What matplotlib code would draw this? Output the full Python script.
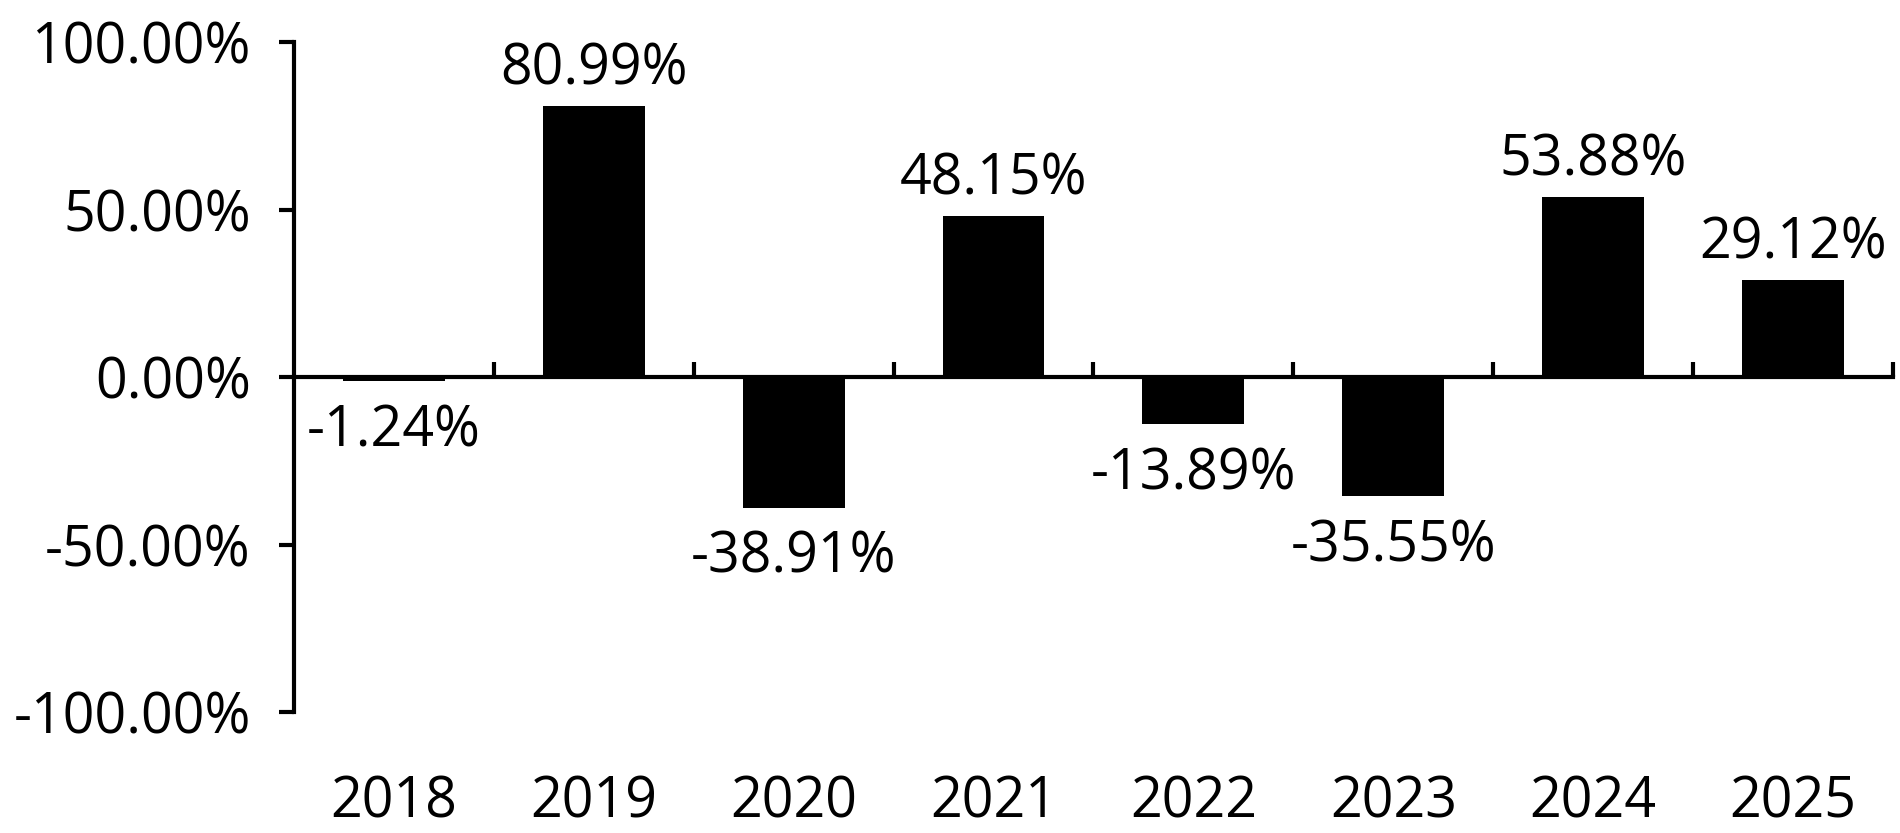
import matplotlib
matplotlib.use("Agg")
import matplotlib.pyplot as plt
import numpy as np
from matplotlib.ticker import FuncFormatter, FixedLocator

years = ["2018", "2019", "2020", "2021", "2022", "2023", "2024", "2025"]
returns = [-1.24, 80.99, -38.91, 48.15, -13.89, -35.55, 53.88, 29.12]
y_ticks = [-100, -50, 0, 50, 100]

plt.rcParams['font.family'] = ['Open Sans', 'DejaVu Sans']
FS = 40

fig = plt.figure(figsize=(19, 8.33), dpi=100)
ax = fig.add_axes([0.1547, 0.1447, 0.9963 - 0.1547, 0.9496 - 0.1447])

x = np.arange(len(years))
bars = ax.bar(x, returns, width=0.51, color="black")

for xi, v in zip(x, returns):
    if v >= 0:
        ax.annotate(f"{v:.2f}%", (xi, v), xytext=(0, 5), textcoords="offset points",
                    ha="center", va="bottom", fontsize=FS)
    else:
        ax.annotate(f"{v:.2f}%", (xi, v), xytext=(0, -16), textcoords="offset points",
                    ha="center", va="top", fontsize=FS)

ax.set_xlim(-0.5, len(years) - 0.5)
ax.set_ylim(-100, 100)

for s in ["top", "right"]:
    ax.spines[s].set_visible(False)
ax.spines["left"].set_linewidth(3)
ax.spines["bottom"].set_linewidth(3)
ax.spines["bottom"].set_position(("data", 0))

ax.set_yticks(y_ticks)
ax.yaxis.set_major_formatter(FuncFormatter(lambda v, p: f"{v:.2f}%"))
ax.tick_params(axis="y", direction="out", length=11, width=3, labelsize=FS, pad=20)

# category labels sit far below the zero line, boundary ticks point up
ax.set_xticks(x)
ax.set_xticklabels(years)
ax.tick_params(axis="x", which="major", length=0, labelsize=FS, pad=286)
ax.xaxis.set_minor_locator(FixedLocator(np.arange(0.5, len(years), 1.0)))
ax.tick_params(axis="x", which="minor", direction="in", length=11, width=3)

fig.savefig("out.png", dpi=100)
